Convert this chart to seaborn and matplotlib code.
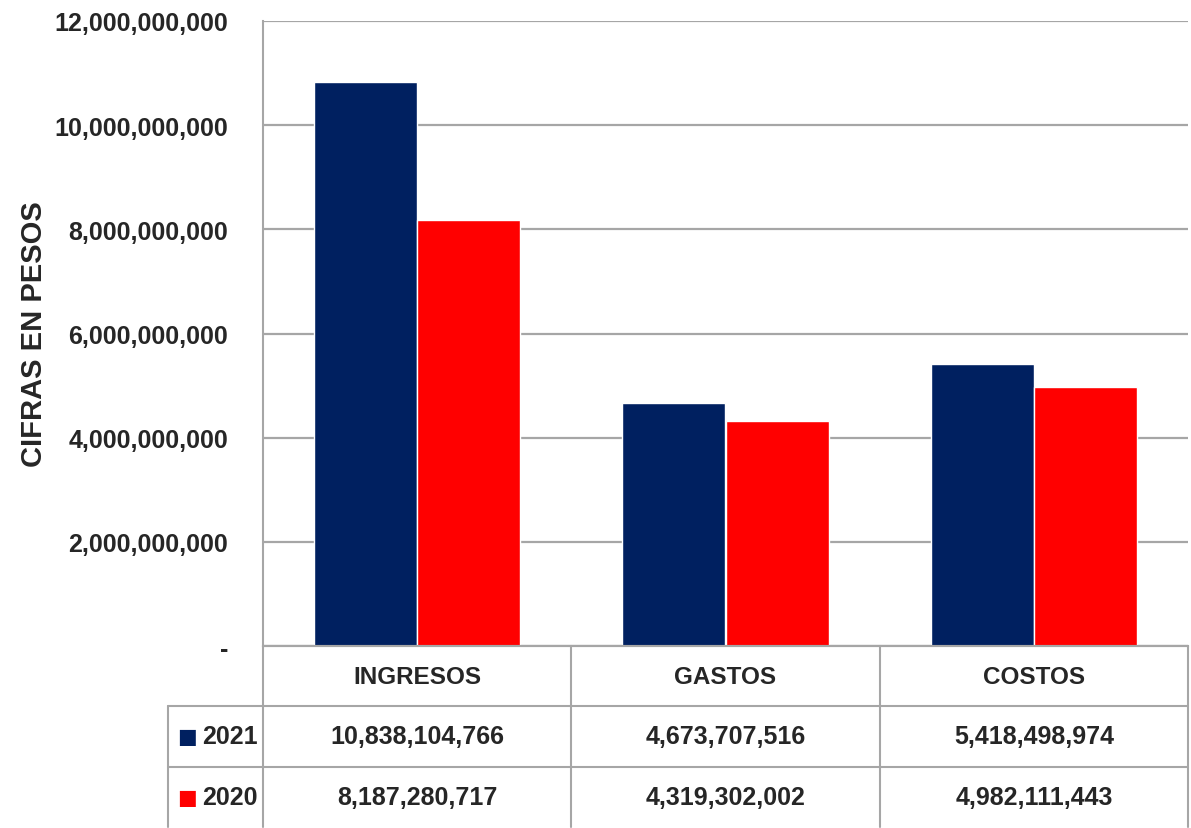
import matplotlib
matplotlib.use("Agg")
import matplotlib.pyplot as plt
from matplotlib.ticker import FuncFormatter, MultipleLocator
import seaborn as sns
import pandas as pd

categories = ["INGRESOS", "GASTOS", "COSTOS"]
years = ["2021", "2020"]
values_2021 = [10838104766, 4673707516, 5418498974]
values_2020 = [8187280717, 4319302002, 4982111443]
colors = ["#002060", "#FF0000"]

sns.set_theme(style="white")
plt.rcParams["font.family"] = ["Liberation Sans", "DejaVu Sans"]

df = pd.DataFrame({
    "categoria": categories * 2,
    "anio": [years[0]] * 3 + [years[1]] * 3,
    "valor": values_2021 + values_2020,
})

W, H = 1191, 829
fig = plt.figure(figsize=(W / 100, H / 100), dpi=100)
ax = fig.add_axes([263 / W, 1 - 647 / H, 925 / W, 625 / H])

sns.barplot(data=df, x="categoria", y="valor", hue="anio", hue_order=years,
            order=categories, palette=colors, width=0.67, ax=ax,
            saturation=1, legend=False, errorbar=None)

ax.set_xlim(-0.5, 2.5)
ax.set_ylim(0, 12e9)
ax.yaxis.set_major_locator(MultipleLocator(2e9))
ax.yaxis.set_major_formatter(FuncFormatter(lambda v, p: "-" if v == 0 else f"{v:,.0f}"))
ax.set_axisbelow(True)
ax.grid(axis="y", color="#A6A6A6", linewidth=1.6)
ax.grid(axis="x", visible=False)
ax.tick_params(axis="y", length=0, pad=25, labelsize=18)
for lbl in ax.get_yticklabels():
    lbl.set_fontweight("bold")
ax.set_xticks([])
ax.set_xlabel("")
ax.set_ylabel("CIFRAS EN PESOS", fontsize=21, fontweight="bold")
ax.yaxis.set_label_coords(-0.232, 0.5)
for s in ["top", "right"]:
    ax.spines[s].set_visible(False)
for s in ["left", "bottom"]:
    ax.spines[s].set_color("#A6A6A6")
    ax.spines[s].set_linewidth(1.5)

# data table below the chart
tax = fig.add_axes([263 / W, 1 - 828 / H, 925 / W, 181 / H])
tax.set_xlim(-0.5, 2.5)
tax.set_ylim(0, 3)
tax.axis("off")
lc = "#A6A6A6"
x_lab = -0.5 - 95 / 925 * 3
# vertical borders
for xb in [-0.5, 0.5, 1.5, 2.5]:
    tax.plot([xb, xb], [0, 3], color=lc, lw=1.5, clip_on=False)
tax.plot([x_lab, x_lab], [0, 2], color=lc, lw=1.5, clip_on=False)
# horizontal borders
tax.plot([-0.5, 2.5], [3, 3], color=lc, lw=1.5, clip_on=False)
for yb in [2, 1]:
    tax.plot([x_lab, 2.5], [yb, yb], color=lc, lw=1.5, clip_on=False)

for i, c in enumerate(categories):
    tax.text(i, 2.5, c, ha="center", va="center", fontsize=17.5, fontweight="bold")

rows = [values_2021, values_2020]
for r, (yr, vals, col) in enumerate(zip(years, rows, colors)):
    yc = 1.5 - r
    tax.text(x_lab + 0.03, yc, "\u25A0", ha="left", va="center", fontsize=15,
             color=col, family=["DejaVu Sans"], clip_on=False)
    tax.text(-0.516, yc, yr, ha="right", va="center", fontsize=18,
             fontweight="bold", clip_on=False)
    for i, v in enumerate(vals):
        tax.text(i, yc, f"{v:,}", ha="center", va="center", fontsize=18,
                 fontweight="bold")

fig.savefig("out.png", dpi=100)
